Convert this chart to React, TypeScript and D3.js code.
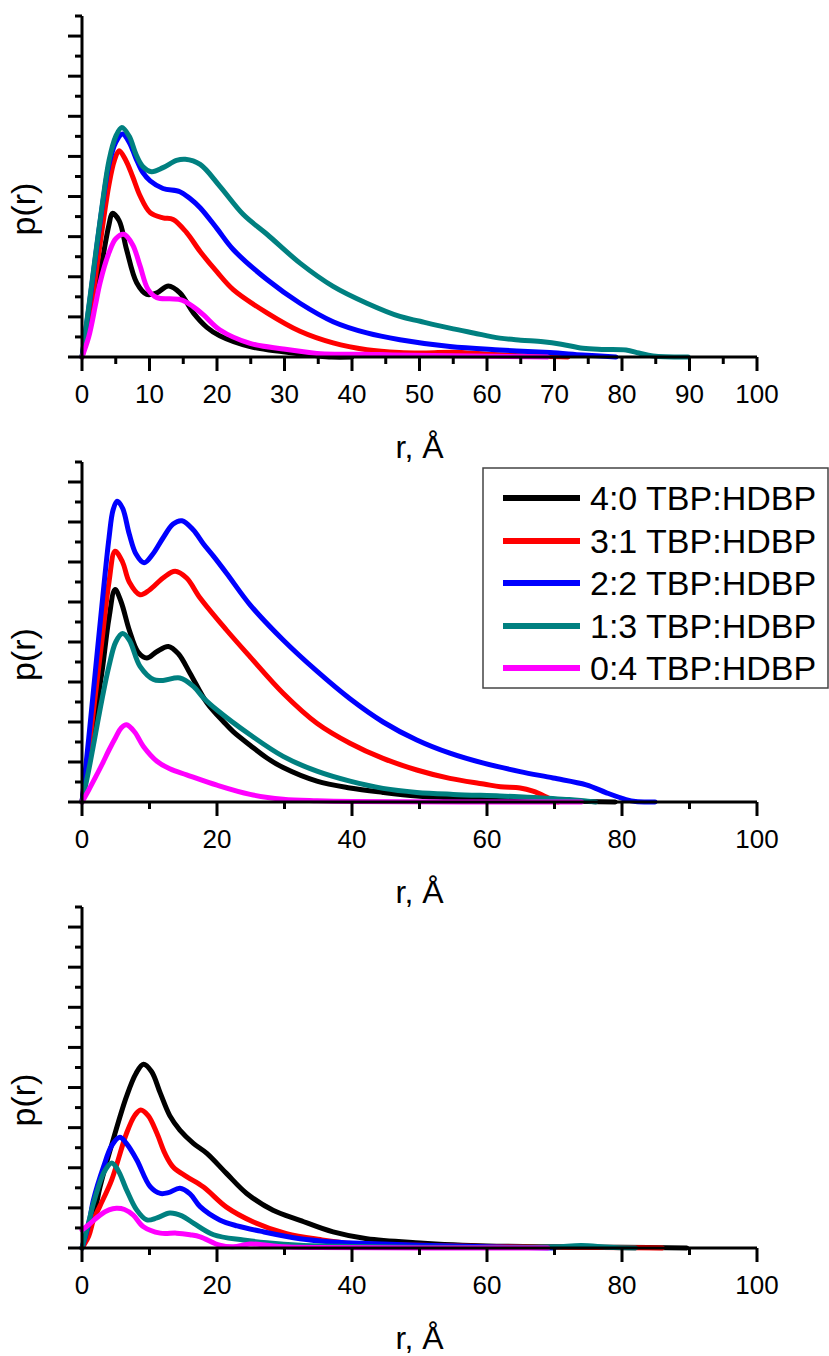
import React from "react";
import * as d3 from "d3";

type P = [number, number];

const seriesNames = ["4:0 TBP:HDBP", "3:1 TBP:HDBP", "2:2 TBP:HDBP", "1:3 TBP:HDBP", "0:4 TBP:HDBP"];
const seriesColors = ["#000000", "#ff0000", "#0000ff", "#008080", "#ff00ff"];

// Top panel
const topBlack: P[] = [[0,0],[1,0.7],[2,1.5],[3,2.4],[4,3.3],[4.5,3.58],[5.5,3.4],[6.6,2.68],[8.1,1.85],[9.6,1.56],[11.1,1.6],[12.8,1.77],[14.5,1.6],[16.5,1.1],[18.5,0.74],[20.4,0.53],[24.9,0.26],[29.8,0.13],[34.8,0.03],[37,0],[40,0]];
const topRed: P[] = [[0,0],[1,0.9],[2,2.0],[3,3.2],[4,4.3],[4.8,4.9],[5.5,5.14],[6.5,4.9],[7.5,4.5],[8.6,4.02],[10.1,3.6],[12,3.47],[13.5,3.43],[15.5,3.1],[17.5,2.63],[20,2.12],[22.4,1.68],[27.4,1.1],[32.3,0.64],[37.2,0.35],[42.2,0.18],[47,0.11],[51,0.1],[55,0.12],[60,0.07],[65,0.03],[72,0]];
const topBlue: P[] = [[0,0],[1,1.2],[2,2.5],[3,3.75],[4,4.8],[5,5.35],[6,5.56],[7,5.35],[8,4.95],[9,4.6],[10.1,4.39],[12,4.2],[14.5,4.12],[16,3.95],[17.5,3.72],[20,3.2],[22.4,2.68],[27.4,1.93],[32.3,1.34],[37.2,0.88],[42.2,0.6],[47.1,0.43],[54.5,0.26],[61.9,0.175],[69.3,0.11],[74.2,0.05],[79.1,0]];
const topTeal: P[] = [[0,0],[1,1.25],[2,2.55],[3,3.8],[4,4.9],[5,5.5],[5.9,5.72],[7,5.5],[8,5.05],[9,4.75],[10.3,4.62],[12,4.72],[14,4.9],[15.3,4.93],[17.5,4.8],[20.4,4.26],[23.9,3.55],[27.4,3.06],[32.3,2.34],[37.2,1.76],[42.2,1.34],[47.1,1.01],[50.1,0.89],[54.5,0.72],[58,0.6],[61.9,0.47],[65,0.42],[68.3,0.38],[71,0.32],[74.2,0.22],[77,0.19],[80.6,0.175],[82.5,0.1],[84.6,0.025],[89.8,0]];
const topMagenta: P[] = [[0,0],[1,0.5],[2,1.3],[2.67,1.85],[4,2.6],[5,2.95],[6.2,3.06],[7.5,2.8],[8.6,2.27],[9.8,1.68],[11.1,1.48],[13,1.45],[14.8,1.42],[16.5,1.25],[18,1.05],[20.4,0.68],[24.9,0.34],[29.8,0.2],[34.8,0.09],[38,0.07],[42,0.07],[46,0.05],[55,0.03],[69,0]];

// Middle panel
const midBlack: P[] = [[0,0],[1,1.1],[2,2.2],[3,3.3],[4,4.6],[4.9,5.31],[5.8,5.0],[7,4.3],[8.3,3.75],[9.6,3.6],[11,3.75],[12.8,3.89],[14.3,3.7],[16,3.22],[18.5,2.48],[21,2.0],[22.4,1.76],[24.9,1.42],[27.4,1.1],[29.8,0.86],[34.8,0.52],[39.7,0.35],[44.6,0.24],[49.6,0.15],[55,0.1],[60,0.07],[65,0.05],[70,0.03],[75,0.01],[79,0]];
const midRed: P[] = [[0,0],[1,1.3],[2,2.7],[3,4.1],[4,5.5],[4.9,6.27],[6,6.0],[7,5.5],[8.6,5.18],[10,5.3],[12,5.6],[13.8,5.77],[15.5,5.6],[17.5,5.1],[21.4,4.3],[24.9,3.63],[29.8,2.72],[34.8,1.97],[39.7,1.47],[44.6,1.09],[49.6,0.8],[54.5,0.59],[59.5,0.45],[62,0.38],[64.9,0.35],[66.8,0.27],[68.8,0.125],[69.8,0.04],[70.5,0]];
const midBlue: P[] = [[0,0],[1,1.6],[2,3.3],[3,5.0],[4,6.6],[4.6,7.3],[5.2,7.52],[6,7.35],[7,6.7],[8,6.2],[9.2,5.98],[10.5,6.2],[12,6.6],[13.5,6.95],[14.8,7.03],[16.5,6.8],[18,6.45],[19.5,6.14],[21.5,5.7],[24.9,4.93],[29.8,4.05],[34.8,3.27],[39.7,2.58],[44.6,2.0],[49.6,1.55],[54.5,1.22],[59.5,0.97],[64.9,0.76],[69.8,0.6],[74.7,0.43],[77.7,0.23],[80.6,0.06],[82,0.01],[84.9,0]];
const midTeal: P[] = [[0,0],[1,0.8],[2,1.7],[3,2.6],[4,3.4],[5,4.0],[6,4.21],[7,4.05],[8.6,3.39],[10.6,3.06],[12,3.04],[14.5,3.1],[16.5,2.89],[18,2.6],[20,2.3],[24.9,1.68],[29.8,1.14],[34.8,0.77],[39.7,0.52],[44.6,0.34],[49.6,0.24],[55,0.19],[61.9,0.15],[66,0.12],[72.2,0.06],[76.1,0]];
const midMagenta: P[] = [[0,0],[1,0.3],[2,0.62],[3,0.95],[4,1.3],[5,1.62],[5.8,1.85],[6.6,1.93],[7.8,1.75],[9.1,1.39],[11.1,1.02],[13,0.83],[15.5,0.68],[20,0.42],[24.9,0.19],[29.8,0.07],[34.8,0.03],[40,0.01],[74,0]];

// Bottom panel
const botBlack: P[] = [[0,0],[1,0.4],[2,1.0],[2.67,1.52],[4.6,2.69],[6.6,3.78],[8,4.35],[9.1,4.58],[10.3,4.4],[11.6,3.86],[13,3.3],[14.5,2.94],[16.5,2.61],[18.5,2.36],[21.4,1.86],[24.4,1.36],[28.3,0.94],[32.3,0.69],[37.2,0.4],[42.2,0.23],[50.1,0.125],[55,0.08],[60,0.05],[70,0.03],[80,0.02],[89.6,0]];
const botRed: P[] = [[0,0],[1,0.3],[1.7,0.7],[2.67,1.05],[4.4,1.7],[6.6,2.86],[7.8,3.3],[8.7,3.44],[9.8,3.3],[11.1,2.86],[12.3,2.35],[13.5,2.02],[15.5,1.78],[18,1.52],[21.4,1.02],[25.4,0.65],[30.3,0.36],[35.3,0.21],[40.2,0.11],[50.1,0.07],[60,0.04],[70,0.02],[86,0]];
const botBlue: P[] = [[0,0],[1,0.6],[1.7,1.2],[3.2,2.03],[4.4,2.55],[5.6,2.76],[6.6,2.6],[8.1,2.2],[10.1,1.53],[11.6,1.36],[12.8,1.38],[14.5,1.49],[16,1.35],[17.5,1.03],[20.4,0.7],[23,0.55],[26.4,0.42],[32.3,0.23],[37.2,0.15],[42.2,0.11],[50,0.07],[60,0.03],[70,0]];
const botTeal: P[] = [[0,0],[1,0.65],[1.7,1.12],[3.3,1.9],[4.4,2.12],[5.3,1.95],[6.6,1.45],[8.1,0.95],[9.6,0.7],[11.1,0.75],[13,0.87],[14.8,0.8],[16.5,0.62],[19.5,0.33],[23.9,0.2],[27.4,0.13],[32.3,0.07],[40,0.04],[50,0.02],[60,0.01],[70,0.03],[74,0.06],[78,0.02],[82,0]];
const botMagenta: P[] = [[0,0.45],[1,0.58],[2.67,0.82],[4,0.95],[5.1,0.99],[6.3,0.96],[7.6,0.82],[9.1,0.53],[11.6,0.37],[14,0.37],[16,0.33],[17.5,0.28],[20.4,0.07],[22.4,0.03],[24.9,0.1],[27.4,0.07],[29.8,0.03],[35,0.01],[69,0]];

const topXTicks = [0, 10, 20, 30, 40, 50, 60, 70, 80, 90, 100];
const otherXTicks = [0, 20, 40, 60, 80, 100];

const W = 829;
const H = 1356;
const X0 = 82;
const X1 = 757;

const FONT = "'Liberation Sans', Arial, sans-serif";

interface PanelProps {
  top: number;
  bottom: number;
  series: P[][];
  majorStep: number;
}

function Panel({ top, bottom, series, majorStep }: PanelProps) {
  const x = d3.scaleLinear().domain([0, 100]).range([X0, X1]);
  const y = d3.scaleLinear().domain([0, 8.5]).range([bottom, top]);
  const line = d3
    .line<P>()
    .x((d) => x(d[0]))
    .y((d) => Math.min(y(d[1]), bottom))
    .curve(d3.curveCatmullRom.alpha(0.5));

  const yMajor = d3.range(0, 8.01, 1);
  const yMinor = d3.range(0.5, 8.51, 1);
  const xMajor = d3.range(0, 100.01, majorStep);
  const xMinor = d3.range(majorStep / 2, 100, majorStep);
  const midY = (top + bottom) / 2 + 22.5;

  return (
    <g>
      {series.map((s, i) => (
        <path
          key={i}
          d={line(s) || ""}
          fill="none"
          stroke={seriesColors[i]}
          strokeWidth={5}
          strokeLinejoin="round"
          strokeLinecap="round"
        />
      ))}
      {/* axes */}
      <line x1={x(0)} x2={x(100)} y1={y(0)} y2={y(0)} stroke="#000" strokeWidth={3} />
      <line x1={x(0)} x2={x(0)} y1={y(0) + 1.5} y2={y(8.5)} stroke="#000" strokeWidth={3} />
      {yMajor.map((v) => (
        <line key={"ym" + v} x1={x(0) - 14} x2={x(0)} y1={y(v)} y2={y(v)} stroke="#000" strokeWidth={3} />
      ))}
      {yMinor.map((v) => (
        <line key={"yn" + v} x1={x(0) - 7} x2={x(0)} y1={y(v)} y2={y(v)} stroke="#000" strokeWidth={3} />
      ))}
      {xMajor.map((v) => (
        <line key={"xm" + v} x1={x(v)} x2={x(v)} y1={y(0)} y2={y(0) + 14} stroke="#000" strokeWidth={3} />
      ))}
      {xMinor.map((v) => (
        <line key={"xn" + v} x1={x(v)} x2={x(v)} y1={y(0)} y2={y(0) + 7} stroke="#000" strokeWidth={3} />
      ))}
      {(majorStep === 10 ? topXTicks : otherXTicks).map((v) => (
        <text key={"xl" + v} x={x(v)} y={y(0) + 46} textAnchor="middle" fontSize={26} fontFamily={FONT} fill="#000">
          {v}
        </text>
      ))}
      <text x={(X0 + X1) / 2} y={y(0) + 101} textAnchor="middle" fontSize={32} fontFamily={FONT} fill="#000">
        r, Å
      </text>
      <text
        transform={`translate(35, ${midY}) rotate(-90)`}
        textAnchor="middle"
        fontSize={34}
        fontFamily={FONT}
        fill="#000"
      >
        p(r)
      </text>
    </g>
  );
}

function Legend() {
  const rows = [498, 541, 583, 626, 668];
  return (
    <g>
      <rect x={483} y={468} width={345} height={220} fill="#fff" stroke="#444" strokeWidth={1.5} />
      {seriesNames.map((n, i) => (
        <g key={n}>
          <line x1={503} x2={580} y1={rows[i]} y2={rows[i]} stroke={seriesColors[i]} strokeWidth={6} />
          <circle cx={541.5} cy={rows[i]} r={2.5} fill={seriesColors[i]} />
          <text x={590} y={rows[i]} dy="0.35em" fontSize={34} fontFamily={FONT} fill="#000">
            {n}
          </text>
        </g>
      ))}
    </g>
  );
}

export default function App() {
  return (
    <svg
      width={W}
      height={H}
      viewBox={`0 0 ${W} ${H}`}
      style={{ position: "absolute", left: 0, top: 0, background: "#fff" }}
    >
      <rect x={0} y={0} width={W} height={H} fill="#fff" />
      <Panel top={16} bottom={357} series={[topBlack, topRed, topBlue, topTeal, topMagenta]} majorStep={10} />
      <Panel top={462} bottom={802} series={[midBlack, midRed, midBlue, midTeal, midMagenta]} majorStep={20} />
      <Panel top={907} bottom={1248} series={[botBlack, botRed, botBlue, botTeal, botMagenta]} majorStep={20} />
      <Legend />
    </svg>
  );
}
